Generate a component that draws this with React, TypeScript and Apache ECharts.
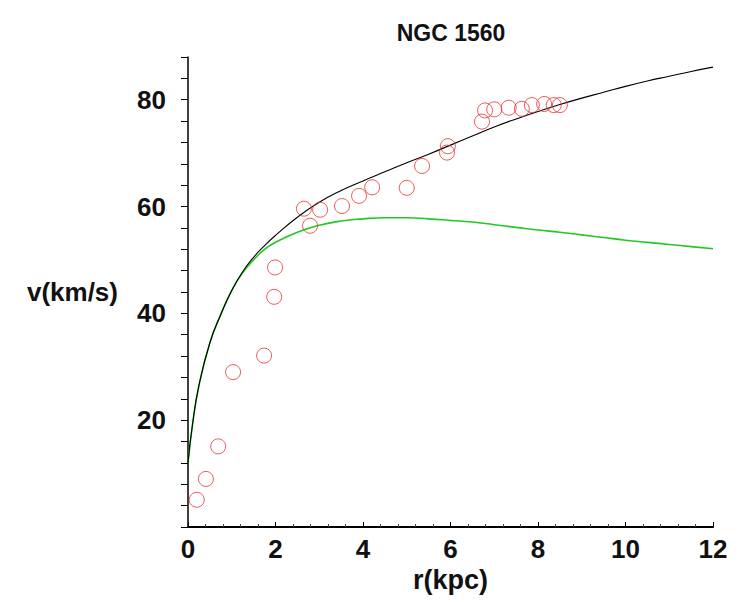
import React, { useEffect, useRef } from "react";
import * as echarts from "echarts";

const TITLE = "NGC 1560";
const X_NAME = "r(kpc)";
const Y_NAME = "v(km/s)";

// observed rotation curve points
const obsR = [0.2, 0.41, 0.69, 1.03, 1.74, 1.97, 1.99, 2.65, 2.79, 3.02, 3.52, 3.91, 4.21, 5.0, 5.35, 5.92, 5.94, 6.72, 6.79, 7.0, 7.33, 7.63, 7.86, 8.14, 8.36, 8.5];
const obsV = [5.1, 9.0, 15.1, 29.0, 32.1, 43.1, 48.6, 59.6, 56.4, 59.4, 60.1, 62.0, 63.6, 63.5, 67.6, 70.1, 71.3, 75.9, 78.0, 78.2, 78.5, 78.3, 79.0, 79.2, 79.0, 79.0];

// model curves
const curveR = [0, 0.1, 0.25, 0.5, 0.75, 1, 1.25, 1.5, 1.75, 2, 2.5, 3, 3.5, 4, 4.5, 5, 5.5, 6, 6.5, 7, 7.5, 8, 8.5, 9, 9.5, 10, 10.5, 11, 11.5, 12];
const totalV = [12, 19, 26.5, 34.5, 39.8, 44.3, 47.8, 50.5, 52.7, 54.6, 58.0, 60.8, 63.0, 64.8, 66.5, 68.2, 69.8, 71.5, 73.2, 74.9, 76.4, 77.8, 79.1, 80.3, 81.4, 82.5, 83.5, 84.4, 85.3, 86.1];
const diskV = [12, 19, 26.5, 34.5, 39.8, 44.3, 47.6, 50.0, 52.0, 53.3, 55.2, 56.5, 57.3, 57.7, 57.9, 57.9, 57.7, 57.4, 57.1, 56.6, 56.1, 55.6, 55.2, 54.7, 54.2, 53.7, 53.3, 52.9, 52.5, 52.1];

const FONT = "'Liberation Sans', Arial, sans-serif";

export default function App() {
  const ref = useRef<HTMLDivElement>(null);
  useEffect(() => {
    if (!ref.current) return;
    const chart = echarts.init(ref.current, null, { renderer: "svg" });
    const obs = obsR.map((r, i) => [r, obsV[i]]);
    const total = curveR.map((r, i) => [r, totalV[i]]);
    const disk = curveR.map((r, i) => [r, diskV[i]]);
    chart.setOption({
      animation: false,
      backgroundColor: "#ffffff",
      title: {
        text: TITLE,
        left: 446,
        top: 16,
        textAlign: "center",
        textStyle: { fontFamily: FONT, fontWeight: "bold", fontSize: 23, color: "#111" },
      },
      grid: { left: 188, right: 27, top: 57, bottom: 78 },
      xAxis: {
        type: "value",
        min: 0,
        max: 12,
        interval: 2,
        name: X_NAME,
        nameLocation: "middle",
        nameGap: 38,
        nameTextStyle: { fontFamily: FONT, fontWeight: "bold", fontSize: 27, color: "#111" },
        axisLine: { show: true, lineStyle: { color: "#000", width: 2 } },
        axisTick: { show: true, inside: true, length: 5, lineStyle: { color: "#000" } },
        minorTick: { show: true, splitNumber: 5, length: 3, lineStyle: { color: "#444" } },
        splitLine: { show: false },
        axisLabel: { fontFamily: FONT, fontWeight: "bold", fontSize: 26, color: "#111", margin: 9 },
      },
      yAxis: {
        type: "value",
        min: 0,
        max: 88,
        interval: 4,
        name: Y_NAME,
        nameLocation: "middle",
        nameRotate: 0,
        nameGap: 70,
        nameTextStyle: { fontFamily: FONT, fontWeight: "bold", fontSize: 26, color: "#111", padding: [0, 0, 8, 0] },
        axisLine: { show: true, lineStyle: { color: "#000", width: 1.5 } },
        axisTick: { show: true, inside: false, length: 7, lineStyle: { color: "#000" } },
        splitLine: { show: false },
        axisLabel: {
          fontFamily: FONT,
          fontWeight: "bold",
          fontSize: 26,
          color: "#111",
          margin: 22,
          formatter: (v: number) => (v !== 0 && v % 20 === 0 ? String(v) : ""),
        },
      },
      series: [
        {
          type: "line",
          name: "disk",
          data: disk,
          smooth: true,
          showSymbol: false,
          lineStyle: { color: "#22c822", width: 1.6 },
          z: 2,
        },
        {
          type: "line",
          name: "total",
          data: total,
          smooth: true,
          showSymbol: false,
          lineStyle: { color: "#000", width: 1.1 },
          z: 3,
        },
        {
          type: "scatter",
          name: "observed",
          data: obs,
          symbol: "circle",
          symbolSize: 15,
          itemStyle: { color: "transparent", borderColor: "#e83030", borderWidth: 1 },
          z: 4,
        },
      ],
    });
    return () => chart.dispose();
  }, []);
  return (
    <div
      ref={ref}
      style={{ position: "fixed", left: 0, top: 0, width: 740, height: 605, background: "#fff" }}
    />
  );
}
